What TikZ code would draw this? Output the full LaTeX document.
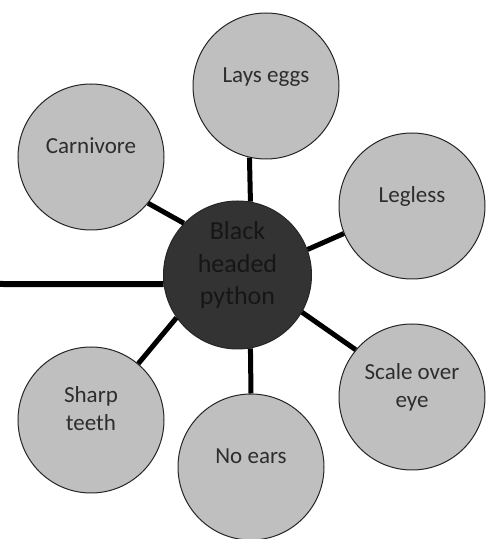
\documentclass[tikz,border=0pt]{standalone}
\usepackage{fontspec}
\setmainfont{Carlito}
\definecolor{hubgray}{RGB}{51,51,51}
\definecolor{hubtext}{RGB}{22,22,22}
\definecolor{traitgray}{RGB}{191,191,191}
\definecolor{traittext}{RGB}{45,45,45}
\begin{document}
\begin{tikzpicture}[x=1pt,y=1pt,
    trait/.style={circle,draw=black!85,line width=1pt,fill=traitgray,
      minimum size=146pt,inner sep=0pt,align=center,text=traittext,
      font=\fontsize{23}{28}\selectfont,text depth=22pt},
    hub/.style={trait,fill=hubgray,text=hubtext,minimum size=148pt,
      font=\fontsize{26}{32.5}\selectfont,text depth=24pt},
    spoke/.style={line width=5pt}]

    \useasboundingbox (0,0) rectangle (490,539);

    % Nodo central y rasgos
    \node[hub]   (python) at (237.5,264) {Black\\headed\\python};
    \node[trait] (eggs)   at (266,453)   {Lays eggs};
    \node[trait] (carn)   at (91,382)    {Carnivore};
    \node[trait] (legs)   at (412,333)   {Legless};
    \node[trait] (teeth)  at (91,119)    {Sharp\\teeth};
    \node[trait] (ears)   at (251,72)    {No ears};
    \node[trait] (scale)  at (412,142)   {Scale over\\eye};
    \coordinate (tail) at (0,255);

    % Conectores
    \draw[spoke] (python.80)  -- (eggs.257);
    \draw[spoke] (python.136) -- (carn.321);
    \draw[spoke] (python.20)  -- (legs.202);
    \draw[spoke] (python.215) -- (teeth.50);
    \draw[spoke] (python.280) -- (ears.90);
    \draw[spoke] (python.330) -- (scale.140);
    \draw[line width=6pt] (tail) -- (python.187);

\end{tikzpicture}
\end{document}
